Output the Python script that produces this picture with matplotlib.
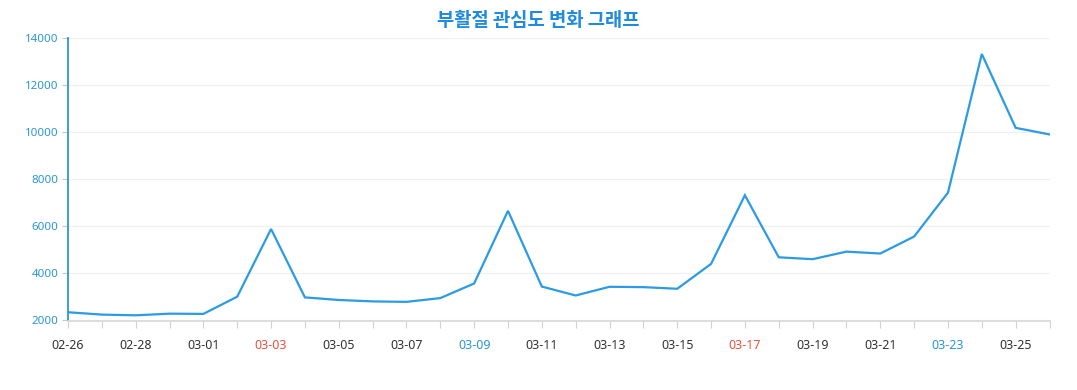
import matplotlib
matplotlib.use("Agg")
import matplotlib.pyplot as plt
from matplotlib.ticker import MultipleLocator

dates = ["02-26", "02-27", "02-28", "02-29", "03-01", "03-02", "03-03", "03-04",
         "03-05", "03-06", "03-07", "03-08", "03-09", "03-10", "03-11", "03-12",
         "03-13", "03-14", "03-15", "03-16", "03-17", "03-18", "03-19", "03-20",
         "03-21", "03-22", "03-23", "03-24", "03-25", "03-26"]
values = [2350, 2250, 2220, 2290, 2280, 3010, 5880, 2980, 2870, 2810, 2790, 2950,
          3570, 6650, 3440, 3060, 3430, 3415, 3345, 4400, 7310, 4680, 4600, 4920,
          4840, 5560, 7420, 13300, 10170, 9890]
red_labels = ["03-03", "03-17"]
blue_labels = ["03-09", "03-23"]
title = "부활절 관심도 변화 그래프"

plt.rcParams['font.family'] = ['Noto Sans', 'Noto Sans CJK KR', 'DejaVu Sans']

W, H = 1077, 390
fig = plt.figure(figsize=(W / 100, H / 100), dpi=100)
left, right, top, bottom = 68, 1049.5, 37.5, 320.5
ax = fig.add_axes([left / W, 1 - bottom / H, (right - left) / W, (bottom - top) / H])

x = list(range(len(dates)))
ax.plot(x, values, color="#2b9be3", lw=1.6, solid_joinstyle="miter")

ax.set_xlim(0, len(dates) - 1)
ax.set_ylim(2000, 14000)
ax.yaxis.set_major_locator(MultipleLocator(2000))
ax.grid(axis="y", color="#f0f0f0", lw=0.9)
ax.set_axisbelow(True)

ax.set_xticks(x, minor=False)
labels = [d if i % 2 == 0 else "" for i, d in enumerate(dates)]
ax.set_xticklabels(labels)
for lbl, d in zip(ax.get_xticklabels(), labels):
    if d in red_labels:
        lbl.set_color("#e5533d")
    elif d in blue_labels:
        lbl.set_color("#2a95d5")
    else:
        lbl.set_color("#333333")
ax.tick_params(axis="x", length=5, width=0.8, color="#d0d0d0", labelsize=9, pad=8)
ax.tick_params(axis="y", length=4, width=0.8, color="#c8c8c8", labelsize=8.3,
               labelcolor="#2a95d5", pad=3)

for s in ["top", "right"]:
    ax.spines[s].set_visible(False)
ax.spines["left"].set_color("#2a95e0")
ax.spines["left"].set_linewidth(1.3)
ax.spines["bottom"].set_color("#d8d8d8")
ax.spines["bottom"].set_linewidth(1.2)

fig.text(0.5, 1 - 20 / H, title, ha="center", va="center", fontsize=13.5,
         fontweight="bold", color="#1e8ae0", family=["Noto Sans CJK KR", "DejaVu Sans"])

fig.savefig("out.png", dpi=100)
